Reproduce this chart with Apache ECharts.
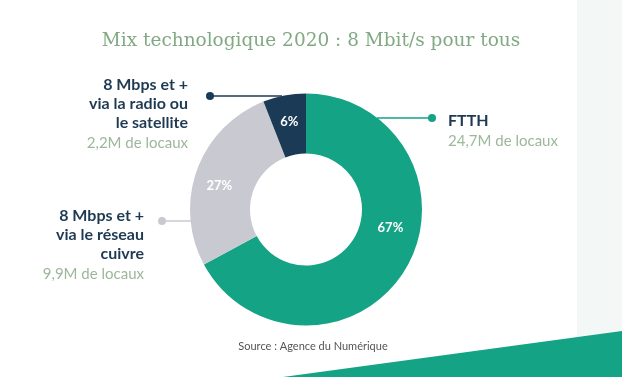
<!DOCTYPE html>
<html>
<head>
<meta charset="utf-8">
<script src="https://cdn.jsdelivr.net/npm/echarts@6/dist/echarts.min.js"></script>
<style>
  html, body { margin: 0; padding: 0; background: #fff; }
  #chart { width: 622px; height: 377px; }
</style>
</head>
<body>
<div id="chart"></div>
<script>
// données : millions de locaux par technologie
const categories = ['FTTH', '8 Mbps et + via le réseau cuivre', '8 Mbps et + via la radio ou le satellite'];
const values = [24.7, 9.9, 2.2];
const colors = ['#14a384', '#c9c9d1', '#1b3a56'];

const titleText = 'Mix technologique 2020 : 8 Mbit/s pour tous';
const sourceText = 'Source : Agence du Numérique';

function locaux(v) {
    return String(v).replace('.', ',') + 'M de locaux';
}

const chart = echarts.init(document.getElementById('chart'));

// styles des étiquettes extérieures (zrender veut "fill")
const rich = {
    b: { fontFamily: 'Lato', fontWeight: 'bold', fontSize: 16, lineHeight: 19, fill: '#1e3a52' },
    s: { fontFamily: 'Lato', fontSize: 15, lineHeight: 22, fill: '#9db79b' }
};

const option = {
    animation: false,
    backgroundColor: '#ffffff',
    title: {
        text: titleText,
        left: 'center',
        top: 27,
        textStyle: { fontFamily: 'DejaVu Serif', fontWeight: 'normal', fontSize: 18.5, color: '#82a983' }
    },
    graphic: [
        // décor à droite et en bas
        { type: 'rect', z: -10, shape: { x: 577, y: 0, width: 45, height: 340 }, style: { fill: '#f3f8f7' } },
        { type: 'polygon', z: -5, shape: { points: [[283, 377], [622, 331], [622, 377]] }, style: { fill: '#14a384' } },

        // FTTH
        { type: 'line', shape: { x1: 377, y1: 118, x2: 432, y2: 118 }, style: { stroke: colors[0], lineWidth: 1.5 } },
        { type: 'circle', shape: { cx: 432, cy: 118, r: 4 }, style: { fill: colors[0] } },
        { type: 'text', x: 448, y: 111, style: {
            text: '{b|FTTH}\n{s|' + locaux(values[0]) + '}', rich: rich, align: 'left'
        } },

        // radio / satellite
        { type: 'line', shape: { x1: 210, y1: 96, x2: 282, y2: 96 }, style: { stroke: colors[2], lineWidth: 1.5 } },
        { type: 'circle', shape: { cx: 210, cy: 96, r: 4 }, style: { fill: colors[2] } },
        { type: 'text', x: 188, y: 75, style: {
            text: '{b|8 Mbps et +}\n{b|via la radio ou}\n{b|le satellite}\n{s|' + locaux(values[2]) + '}',
            rich: rich, align: 'right'
        } },

        // cuivre
        { type: 'line', shape: { x1: 162, y1: 221, x2: 191, y2: 221 }, style: { stroke: colors[1], lineWidth: 1.5 } },
        { type: 'circle', shape: { cx: 162, cy: 221, r: 4 }, style: { fill: colors[1] } },
        { type: 'text', x: 144, y: 206, style: {
            text: '{b|8 Mbps et +}\n{b|via le réseau}\n{b|cuivre}\n{s|' + locaux(values[1]) + '}',
            rich: rich, align: 'right'
        } },

        // source
        { type: 'text', x: 313, y: 341, style: {
            text: sourceText, align: 'center', fontFamily: 'Lato', fontSize: 11, fill: '#555555'
        } }
    ],
    series: [
        {
            type: 'pie',
            center: [306, 209.5],
            radius: [56, 116],
            startAngle: 90,
            clockwise: true,
            silent: true,
            label: {
                position: 'inside',
                color: '#ffffff',
                fontFamily: 'Lato',
                fontWeight: 'bold',
                fontSize: 13,
                formatter: function (p) { return Math.round(p.percent) + '%'; }
            },
            labelLine: { show: false },
            data: categories.map(function (c, i) {
                let d = { name: c, value: values[i], itemStyle: { color: colors[i] } };
                if (i === 0) d.label = { offset: [8, -27] };
                if (i === 1) d.label = { offset: [-3, 7] };
                return d;
            })
        }
    ]
};

chart.setOption(option);
</script>
</body>
</html>
